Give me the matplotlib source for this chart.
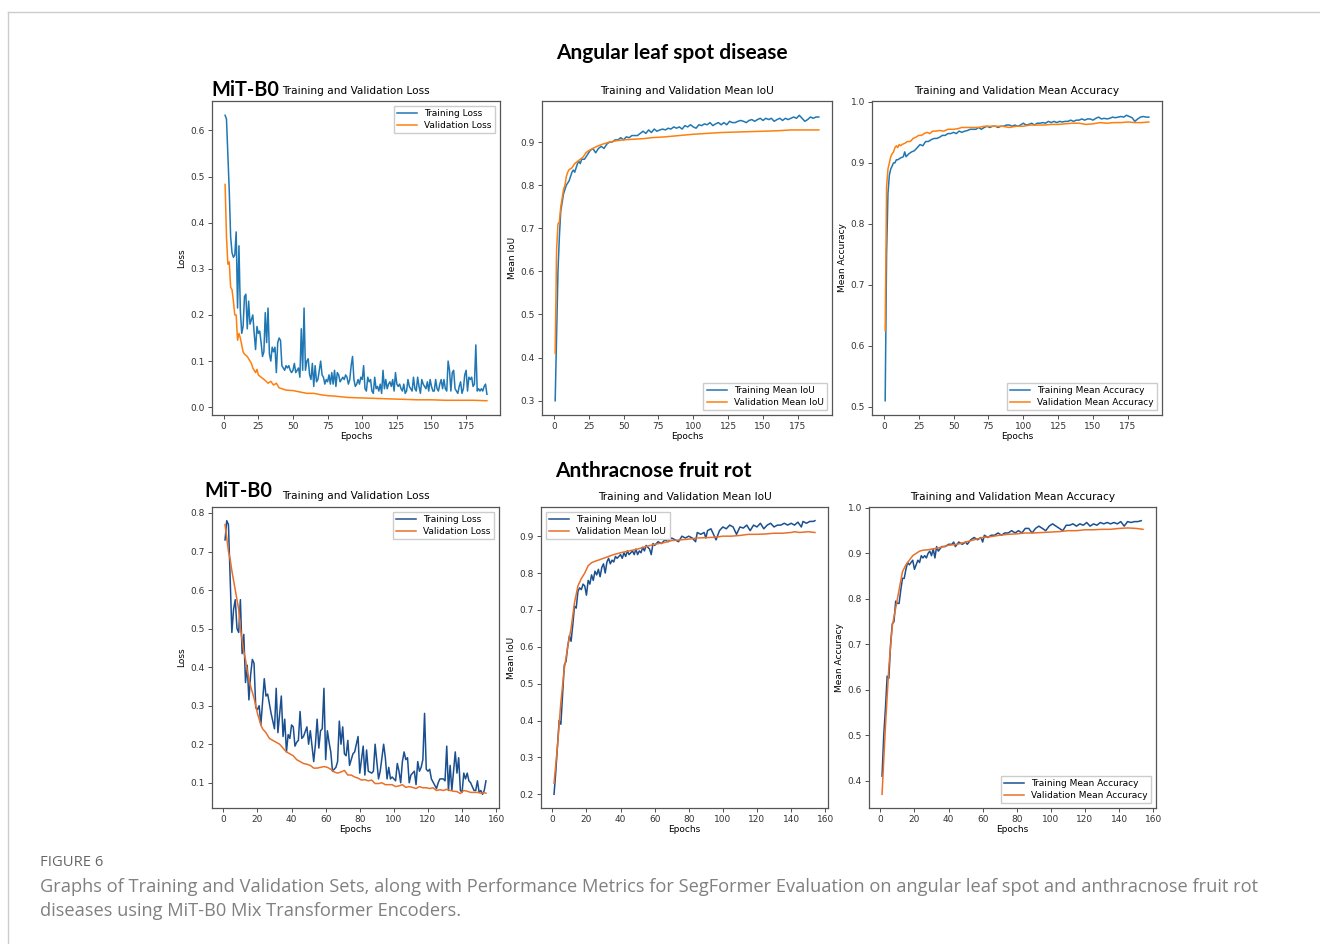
import matplotlib
matplotlib.use('Agg')
import matplotlib.pyplot as plt
from matplotlib.lines import Line2D

# ---------------- Angular leaf spot disease (top row) ----------------
top_loss_tr = [0.633, 0.625, 0.55, 0.47, 0.37, 0.335, 0.325, 0.33, 0.38, 0.215,
	0.35, 0.21, 0.16, 0.175, 0.24, 0.245, 0.17, 0.23, 0.18, 0.19,
	0.2, 0.16, 0.125, 0.175, 0.16, 0.165, 0.14, 0.11, 0.12, 0.205,
	0.14, 0.215, 0.115, 0.1, 0.13, 0.12, 0.13, 0.075, 0.14, 0.15,
	0.145, 0.09, 0.085, 0.08, 0.09, 0.085, 0.09, 0.08, 0.075, 0.08,
	0.095, 0.075, 0.08, 0.085, 0.065, 0.17, 0.08, 0.215, 0.08, 0.1,
	0.105, 0.07, 0.06, 0.095, 0.045, 0.09, 0.055, 0.06, 0.08, 0.1,
	0.07, 0.065, 0.05, 0.06, 0.055, 0.07, 0.05, 0.075, 0.05, 0.08,
	0.045, 0.075, 0.07, 0.055, 0.06, 0.065, 0.06, 0.07, 0.065, 0.05,
	0.06, 0.09, 0.11, 0.06, 0.045, 0.05, 0.06, 0.05, 0.065, 0.06,
	0.09, 0.04, 0.035, 0.065, 0.055, 0.06, 0.035, 0.03, 0.065, 0.04,
	0.045, 0.035, 0.05, 0.03, 0.08, 0.04, 0.06, 0.04, 0.05, 0.055,
	0.045, 0.06, 0.035, 0.075, 0.05, 0.045, 0.05, 0.04, 0.035, 0.05,
	0.03, 0.035, 0.06, 0.045, 0.04, 0.035, 0.065, 0.04, 0.035, 0.065,
	0.045, 0.03, 0.06, 0.05, 0.045, 0.04, 0.055, 0.035, 0.06, 0.045,
	0.035, 0.035, 0.06, 0.04, 0.035, 0.05, 0.06, 0.04, 0.06, 0.04,
	0.035, 0.1, 0.08, 0.035, 0.075, 0.08, 0.04, 0.035, 0.03, 0.045,
	0.055, 0.03, 0.04, 0.07, 0.08, 0.035, 0.065, 0.06, 0.065, 0.045,
	0.05, 0.135, 0.035, 0.04, 0.035, 0.04, 0.035, 0.045, 0.05, 0.028]
top_loss_tr_ep = list(range(1, len(top_loss_tr) + 1))

top_loss_va_ep = [1, 2, 3, 4, 5, 6, 7, 8, 9, 10, 11, 12, 13, 14, 15, 17, 19, 20, 21, 22,
	23, 24, 25, 27, 30, 32, 34, 36, 38, 40, 42, 45, 50, 55, 60, 65, 70, 75, 80, 90,
	100, 110, 120, 130, 140, 150, 160, 170, 180, 190]
top_loss_va = [0.483, 0.37, 0.31, 0.315, 0.26, 0.255, 0.23, 0.2, 0.2, 0.145, 0.16, 0.15, 0.135, 0.12, 0.115, 0.11, 0.1, 0.095, 0.085, 0.08,
	0.075, 0.082, 0.07, 0.065, 0.058, 0.052, 0.056, 0.048, 0.052, 0.042, 0.04, 0.037, 0.036, 0.033, 0.03, 0.03, 0.027, 0.025, 0.024, 0.021,
	0.02, 0.019, 0.018, 0.017, 0.016, 0.016, 0.015, 0.015, 0.015, 0.014]

top_iou_tr_ep = [1, 2, 3, 4, 5, 6, 7, 8, 9, 10, 11, 12, 13, 14, 15, 16, 17, 18, 19, 20,
	22, 24, 26, 28, 30, 32, 34, 36, 38, 40, 42, 44, 46, 48, 50, 52, 54, 56, 58, 60,
	62, 64, 66, 68, 70, 72, 74, 76, 78, 80, 82, 84, 86, 88, 90, 92, 94, 96, 98, 100,
	102, 104, 106, 108, 110, 112, 114, 116, 118, 120, 122, 124, 126, 128, 130, 132, 134, 136, 138, 140,
	142, 144, 146, 148, 150, 152, 154, 156, 158, 160, 162, 164, 166, 168, 170, 172, 174, 176, 178, 180,
	182, 184, 186, 188, 190]
top_iou_tr = [0.30, 0.45, 0.6, 0.68, 0.74, 0.76, 0.78, 0.79, 0.80, 0.805, 0.81, 0.82, 0.83, 0.835, 0.83, 0.84, 0.85, 0.855, 0.85, 0.86,
	0.86, 0.87, 0.88, 0.885, 0.875, 0.885, 0.89, 0.885, 0.895, 0.9, 0.9, 0.905, 0.905, 0.91, 0.905, 0.912, 0.91, 0.915, 0.915, 0.915,
	0.92, 0.925, 0.92, 0.928, 0.922, 0.93, 0.925, 0.928, 0.93, 0.928, 0.932, 0.93, 0.935, 0.932, 0.935, 0.93, 0.938, 0.935, 0.94, 0.935,
	0.932, 0.94, 0.938, 0.942, 0.94, 0.945, 0.938, 0.942, 0.945, 0.94, 0.945, 0.94, 0.948, 0.945, 0.945, 0.948, 0.95, 0.948, 0.945, 0.95,
	0.952, 0.948, 0.952, 0.955, 0.95, 0.955, 0.952, 0.955, 0.948, 0.952, 0.955, 0.95, 0.955, 0.952, 0.955, 0.958, 0.955, 0.962, 0.955, 0.948,
	0.952, 0.958, 0.955, 0.958, 0.958]

top_iou_va_ep = [1, 2, 3, 4, 5, 6, 7, 8, 9, 10, 11, 12, 13, 14, 15, 17, 19, 21, 23, 25,
	28, 31, 35, 40, 45, 50, 55, 60, 65, 70, 80, 90, 100, 110, 120, 130, 140, 150, 160, 170,
	180, 190]
top_iou_va = [0.41, 0.65, 0.71, 0.715, 0.75, 0.77, 0.79, 0.80, 0.82, 0.83, 0.836, 0.838, 0.84, 0.845, 0.85, 0.855, 0.86, 0.865, 0.875, 0.88,
	0.885, 0.89, 0.895, 0.9, 0.903, 0.905, 0.906, 0.907, 0.908, 0.91, 0.912, 0.915, 0.918, 0.92, 0.922, 0.923, 0.924, 0.925, 0.926, 0.928,
	0.928, 0.928]

top_acc_tr_ep = [1, 2, 3, 4, 5, 6, 7, 8, 9, 10, 12, 14, 15, 16, 18, 20, 22, 24, 26, 28,
	30, 32, 34, 36, 38, 40, 42, 44, 46, 48, 50, 52, 54, 56, 58, 60, 62, 64, 66, 68,
	70, 72, 74, 76, 78, 80, 82, 84, 86, 88, 90, 92, 94, 96, 98, 100, 102, 104, 106, 108,
	110, 112, 114, 116, 118, 120, 122, 124, 126, 128, 130, 132, 134, 136, 138, 140, 142, 144, 146, 148,
	150, 152, 154, 156, 158, 160, 162, 164, 166, 168, 170, 172, 174, 176, 178, 180, 182, 184, 186, 188,
	190]
top_acc_tr = [0.51, 0.75, 0.85, 0.88, 0.89, 0.895, 0.90, 0.9, 0.905, 0.905, 0.908, 0.91, 0.918, 0.91, 0.915, 0.918, 0.92, 0.925, 0.93, 0.928,
	0.935, 0.935, 0.938, 0.94, 0.94, 0.942, 0.945, 0.945, 0.948, 0.948, 0.95, 0.948, 0.952, 0.95, 0.952, 0.953, 0.955, 0.955, 0.955, 0.958,
	0.955, 0.958, 0.96, 0.958, 0.96, 0.96, 0.958, 0.96, 0.96, 0.962, 0.962, 0.96, 0.962, 0.96, 0.962, 0.965, 0.962, 0.963, 0.965, 0.962,
	0.965, 0.965, 0.966, 0.965, 0.968, 0.966, 0.968, 0.966, 0.968, 0.967, 0.968, 0.968, 0.97, 0.968, 0.97, 0.97, 0.972, 0.97, 0.972, 0.972,
	0.97, 0.973, 0.975, 0.972, 0.973, 0.972, 0.973, 0.975, 0.974, 0.975, 0.976, 0.975, 0.978, 0.976, 0.974, 0.968, 0.972, 0.975, 0.976, 0.975,
	0.975]

top_acc_va_ep = [1, 2, 3, 4, 5, 6, 7, 8, 9, 10, 11, 12, 13, 15, 17, 19, 21, 23, 25, 27,
	29, 31, 33, 35, 37, 40, 43, 46, 50, 53, 56, 60, 64, 68, 72, 76, 80, 85, 90, 95,
	100, 105, 110, 115, 120, 125, 130, 135, 140, 145, 150, 155, 160, 165, 170, 175, 180, 185, 190]
top_acc_va = [0.625, 0.86, 0.89, 0.9, 0.91, 0.915, 0.918, 0.925, 0.928, 0.925, 0.93, 0.928, 0.93, 0.932, 0.935, 0.935, 0.94, 0.942, 0.945, 0.945,
	0.948, 0.95, 0.948, 0.952, 0.952, 0.953, 0.952, 0.955, 0.955, 0.956, 0.958, 0.958, 0.958, 0.958, 0.96, 0.96, 0.96, 0.96, 0.958, 0.96,
	0.96, 0.962, 0.962, 0.962, 0.963, 0.963, 0.964, 0.965, 0.965, 0.963, 0.964, 0.966, 0.965, 0.966, 0.966, 0.967, 0.966, 0.966, 0.967]

# ---------------- Anthracnose fruit rot (bottom row) ----------------
bot_loss_tr_ep = [1, 2, 3, 5, 6, 7, 8, 9, 10, 11, 12, 13, 14, 15, 16, 17, 18, 19, 20, 21,
	22, 24, 25, 26, 28, 30, 31, 32, 34, 35, 36, 37, 38, 39, 40, 41, 42, 43, 44, 45,
	46, 47, 49, 50, 51, 53, 54, 55, 56, 57, 58, 59, 60, 61, 62, 63, 64, 66, 67, 68,
	69, 70, 71, 72, 73, 74, 76, 77, 78, 79, 80, 82, 83, 84, 85, 87, 88, 89, 91, 92,
	94, 95, 96, 97, 98, 99, 101, 102, 103, 104, 105, 106, 107, 108, 109, 110, 112, 113, 114, 115,
	116, 117, 118, 119, 120, 121, 122, 125, 126, 127, 129, 130, 131, 132, 133, 134, 135, 136, 137, 138,
	139, 140, 141, 142, 143, 144, 145, 147, 148, 149, 150, 151, 152, 153, 154]
bot_loss_tr = [0.73, 0.78, 0.77, 0.49, 0.55, 0.575, 0.5, 0.49, 0.575, 0.435, 0.485, 0.36, 0.405, 0.315, 0.38, 0.42, 0.41, 0.295, 0.29, 0.3,
	0.25, 0.37, 0.325, 0.33, 0.28, 0.24, 0.345, 0.23, 0.325, 0.22, 0.265, 0.18, 0.225, 0.215, 0.25, 0.245, 0.195, 0.205, 0.21, 0.285,
	0.215, 0.22, 0.245, 0.2, 0.235, 0.155, 0.2, 0.265, 0.19, 0.235, 0.24, 0.345, 0.16, 0.235, 0.205, 0.18, 0.13, 0.14, 0.155, 0.26,
	0.2, 0.245, 0.175, 0.17, 0.21, 0.145, 0.175, 0.18, 0.2, 0.22, 0.125, 0.195, 0.12, 0.185, 0.13, 0.125, 0.13, 0.2, 0.11, 0.13,
	0.2, 0.165, 0.11, 0.14, 0.11, 0.115, 0.105, 0.15, 0.13, 0.1, 0.155, 0.18, 0.16, 0.165, 0.1, 0.12, 0.13, 0.095, 0.155, 0.13,
	0.14, 0.16, 0.28, 0.135, 0.13, 0.135, 0.11, 0.085, 0.1, 0.11, 0.11, 0.105, 0.195, 0.08, 0.145, 0.08, 0.13, 0.18, 0.125, 0.165,
	0.08, 0.075, 0.125, 0.11, 0.125, 0.105, 0.1, 0.08, 0.08, 0.105, 0.075, 0.08, 0.07, 0.08, 0.105]

bot_loss_va_ep = [1, 3, 4, 5, 7, 9, 10, 11, 12, 13, 14, 15, 16, 17, 18, 19, 20, 21, 22, 23,
	25, 27, 29, 31, 33, 35, 37, 39, 41, 43, 45, 47, 49, 51, 53, 55, 57, 59, 61, 63,
	65, 67, 69, 71, 73, 75, 77, 79, 81, 83, 85, 87, 89, 91, 93, 95, 97, 99, 101, 103,
	105, 107, 109, 111, 113, 115, 117, 119, 121, 123, 125, 127, 129, 131, 133, 135, 137, 139, 141, 143,
	145, 147, 149, 151, 153, 154]
bot_loss_va = [0.77, 0.70, 0.68, 0.65, 0.6, 0.55, 0.5, 0.47, 0.44, 0.42, 0.39, 0.37, 0.35, 0.335, 0.32, 0.3, 0.28, 0.265, 0.25, 0.24,
	0.23, 0.215, 0.21, 0.205, 0.2, 0.19, 0.18, 0.175, 0.17, 0.16, 0.155, 0.15, 0.148, 0.145, 0.138, 0.138, 0.14, 0.142, 0.14, 0.135,
	0.128, 0.125, 0.128, 0.132, 0.12, 0.12, 0.115, 0.112, 0.107, 0.108, 0.105, 0.107, 0.098, 0.098, 0.1, 0.095, 0.095, 0.095, 0.09, 0.092,
	0.095, 0.088, 0.09, 0.088, 0.085, 0.09, 0.087, 0.087, 0.085, 0.087, 0.08, 0.082, 0.08, 0.083, 0.08, 0.078, 0.077, 0.072, 0.08, 0.078,
	0.075, 0.075, 0.075, 0.073, 0.074, 0.073]

bot_iou_tr_ep = [1, 2, 3, 4, 5, 6, 7, 8, 9, 10, 11, 12, 13, 14, 15, 16, 17, 18, 19, 20,
	21, 22, 23, 24, 25, 26, 27, 28, 29, 30, 31, 32, 33, 34, 35, 36, 37, 38, 39, 40,
	41, 42, 43, 44, 45, 46, 47, 48, 49, 50, 51, 52, 53, 54, 55, 56, 57, 58, 59, 60,
	62, 64, 66, 68, 70, 72, 74, 76, 78, 80, 82, 84, 85, 87, 89, 90, 91, 93, 95, 96,
	98, 100, 102, 104, 106, 108, 110, 112, 114, 116, 118, 120, 122, 124, 126, 128, 130, 132, 134, 136,
	138, 140, 142, 144, 146, 147, 149, 151, 153, 154]
bot_iou_tr = [0.2, 0.26, 0.33, 0.40, 0.39, 0.47, 0.55, 0.56, 0.6, 0.63, 0.615, 0.66, 0.71, 0.705, 0.75, 0.76, 0.755, 0.77, 0.765, 0.74,
	0.78, 0.77, 0.795, 0.78, 0.805, 0.795, 0.81, 0.79, 0.815, 0.825, 0.80, 0.83, 0.84, 0.825, 0.835, 0.83, 0.845, 0.84, 0.845, 0.85,
	0.84, 0.855, 0.845, 0.86, 0.85, 0.855, 0.86, 0.85, 0.865, 0.85, 0.86, 0.855, 0.87, 0.86, 0.875, 0.87, 0.865, 0.85, 0.88, 0.875,
	0.885, 0.88, 0.89, 0.885, 0.895, 0.89, 0.885, 0.9, 0.895, 0.9, 0.895, 0.885, 0.91, 0.905, 0.91, 0.895, 0.915, 0.92, 0.9, 0.89,
	0.915, 0.925, 0.92, 0.93, 0.925, 0.905, 0.925, 0.922, 0.93, 0.915, 0.93, 0.925, 0.935, 0.92, 0.93, 0.935, 0.925, 0.93, 0.93, 0.935,
	0.93, 0.935, 0.93, 0.938, 0.925, 0.94, 0.935, 0.94, 0.94, 0.942]

bot_iou_va_ep = [1, 3, 5, 7, 9, 11, 13, 15, 17, 19, 21, 23, 25, 27, 30, 33, 36, 40, 45, 50,
	55, 60, 65, 70, 75, 80, 85, 90, 95, 100, 105, 110, 115, 120, 125, 130, 135, 140, 142, 145,
	150, 154]
bot_iou_va = [0.23, 0.33, 0.45, 0.54, 0.6, 0.65, 0.72, 0.765, 0.785, 0.8, 0.82, 0.828, 0.832, 0.835, 0.84, 0.845, 0.85, 0.855, 0.86, 0.865,
	0.872, 0.878, 0.882, 0.888, 0.89, 0.892, 0.895, 0.896, 0.897, 0.9, 0.9, 0.902, 0.905, 0.905, 0.906, 0.908, 0.908, 0.91, 0.912, 0.91,
	0.912, 0.91]

bot_acc_tr_ep = [1, 2, 3, 4, 5, 6, 7, 8, 9, 10, 11, 12, 13, 14, 15, 16, 17, 18, 19, 20,
	21, 22, 23, 24, 25, 26, 27, 28, 29, 30, 31, 32, 33, 34, 35, 36, 38, 40, 42, 43,
	44, 46, 48, 50, 51, 53, 55, 57, 59, 60, 61, 63, 65, 67, 69, 71, 73, 75, 77, 79,
	81, 83, 85, 87, 89, 91, 93, 95, 97, 99, 101, 103, 105, 107, 109, 111, 113, 115, 117, 119,
	121, 123, 125, 127, 129, 131, 133, 135, 137, 139, 141, 143, 145, 147, 149, 151, 153]
bot_acc_tr = [0.41, 0.5, 0.56, 0.63, 0.625, 0.70, 0.745, 0.75, 0.795, 0.79, 0.79, 0.82, 0.845, 0.845, 0.865, 0.88, 0.875, 0.88, 0.885, 0.865,
	0.875, 0.885, 0.88, 0.895, 0.89, 0.895, 0.89, 0.9, 0.905, 0.895, 0.91, 0.89, 0.915, 0.905, 0.91, 0.915, 0.915, 0.92, 0.92, 0.925,
	0.915, 0.925, 0.92, 0.925, 0.92, 0.93, 0.935, 0.93, 0.935, 0.925, 0.94, 0.935, 0.94, 0.94, 0.945, 0.94, 0.945, 0.945, 0.95, 0.945,
	0.95, 0.945, 0.955, 0.955, 0.945, 0.955, 0.96, 0.955, 0.95, 0.96, 0.965, 0.96, 0.955, 0.95, 0.962, 0.962, 0.965, 0.96, 0.965, 0.962,
	0.968, 0.96, 0.965, 0.962, 0.968, 0.965, 0.968, 0.965, 0.968, 0.965, 0.97, 0.96, 0.97, 0.968, 0.97, 0.97, 0.972]

bot_acc_va_ep = [1, 3, 5, 7, 9, 11, 13, 15, 17, 19, 21, 23, 25, 28, 31, 34, 37, 40, 45, 50,
	55, 60, 65, 70, 75, 80, 85, 90, 95, 100, 105, 110, 115, 120, 125, 130, 135, 140, 145, 150,
	154]
bot_acc_va = [0.37, 0.52, 0.65, 0.74, 0.78, 0.82, 0.86, 0.875, 0.885, 0.895, 0.9, 0.905, 0.907, 0.908, 0.91, 0.912, 0.915, 0.918, 0.92, 0.925,
	0.93, 0.935, 0.937, 0.94, 0.942, 0.943, 0.945, 0.945, 0.946, 0.947, 0.948, 0.95, 0.95, 0.952, 0.952, 0.953, 0.953, 0.955, 0.956, 0.955,
	0.953]

TOP_C = ('#1f77b4', '#ff7f0e')
BOT_C = ('#1b4f8f', '#e8702a')
FS = 6.5
TFS = 7.6


def draw_panel(ax, tr_ep, tr, va_ep, va, names, ylabel, title, colors, loc):
	ax.plot(tr_ep, tr, color=colors[0], lw=1.1, label=names[0])
	ax.plot(va_ep, va, color=colors[1], lw=1.1, label=names[1])
	ax.set_title(title, fontsize=TFS, pad=5)
	ax.set_xlabel('Epochs', fontsize=FS, labelpad=1)
	ax.set_ylabel(ylabel, fontsize=FS, labelpad=3)
	ax.tick_params(labelsize=FS, length=3, width=0.6, pad=2, colors='#333333')
	for s in ax.spines.values():
		s.set_color('#555555')
		s.set_linewidth(0.9)
	ax.legend(loc=loc, fontsize=FS, handlelength=2.2, borderpad=0.4, labelspacing=0.3, fancybox=False, framealpha=1)


fig = plt.figure(figsize=(13.2, 9.44), dpi=100)
W, H = 1320.0, 944.0


def add_ax(x0, y0, x1, y1):
	return fig.add_axes([x0 / W, 1 - y1 / H, (x1 - x0) / W, (y1 - y0) / H])


ax1 = add_ax(212, 101, 500, 415)
ax2 = add_ax(542, 101, 832, 415)
ax3 = add_ax(872, 101, 1162, 415)
ax4 = add_ax(212, 507, 499, 808)
ax5 = add_ax(541, 507, 828, 808)
ax6 = add_ax(869, 507, 1156, 808)

draw_panel(ax1, top_loss_tr_ep, top_loss_tr, top_loss_va_ep, top_loss_va,
	('Training Loss', 'Validation Loss'), 'Loss', 'Training and Validation Loss', TOP_C, 'upper right')
draw_panel(ax2, top_iou_tr_ep, top_iou_tr, top_iou_va_ep, top_iou_va,
	('Training Mean IoU', 'Validation Mean IoU'), 'Mean IoU', 'Training and Validation Mean IoU', TOP_C, 'lower right')
draw_panel(ax3, top_acc_tr_ep, top_acc_tr, top_acc_va_ep, top_acc_va,
	('Training Mean Accuracy', 'Validation Mean Accuracy'), 'Mean Accuracy', 'Training and Validation Mean Accuracy', TOP_C, 'lower right')
draw_panel(ax4, bot_loss_tr_ep, bot_loss_tr, bot_loss_va_ep, bot_loss_va,
	('Training Loss', 'Validation Loss'), 'Loss', 'Training and Validation Loss', BOT_C, 'upper right')
draw_panel(ax5, bot_iou_tr_ep, bot_iou_tr, bot_iou_va_ep, bot_iou_va,
	('Training Mean IoU', 'Validation Mean IoU'), 'Mean IoU', 'Training and Validation Mean IoU', BOT_C, 'upper left')
draw_panel(ax6, bot_acc_tr_ep, bot_acc_tr, bot_acc_va_ep, bot_acc_va,
	('Training Mean Accuracy', 'Validation Mean Accuracy'), 'Mean Accuracy', 'Training and Validation Mean Accuracy', BOT_C, 'lower right')

for ax in (ax1, ax2, ax3):
	ax.set_xticks([0, 25, 50, 75, 100, 125, 150, 175])
for ax in (ax4, ax5, ax6):
	ax.set_xticks([0, 20, 40, 60, 80, 100, 120, 140, 160])

ax4.set_title('Training and Validation Loss', fontsize=TFS, pad=6)

# headings
fig.text(672 / W, 1 - 53 / H, 'Angular leaf spot disease', ha='center', va='center',
	fontsize=15, fontweight='bold', family='Lato')
fig.text(653 / W, 1 - 471 / H, 'Anthracnose fruit rot', ha='center', va='center',
	fontsize=15, fontweight='bold', family='Lato')
fig.text(211 / W, 1 - 90 / H, 'MiT-B0', ha='left', va='center',
	fontsize=14.3, fontweight='bold', family='Lato')
fig.text(204 / W, 1 - 491 / H, 'MiT-B0', ha='left', va='center',
	fontsize=14.3, fontweight='bold', family='Lato')

# caption
fig.text(40 / W, 1 - 863 / H, 'FIGURE 6', ha='left', va='center',
	fontsize=10.6, color='#666666', family='Open Sans')
fig.text(40 / W, 1 - 887 / H, 'Graphs of Training and Validation Sets, along with Performance Metrics for SegFormer Evaluation on angular leaf spot and anthracnose fruit rot',
	ha='left', va='center', fontsize=13.15, color='#808080', family='Open Sans')
fig.text(40 / W, 1 - 911 / H, 'diseases using MiT-B0 Mix Transformer Encoders.',
	ha='left', va='center', fontsize=13.15, color='#808080', family='Open Sans')

# page frame
fig.add_artist(Line2D([8 / W, 1], [1 - 12 / H, 1 - 12 / H], color='#cccccc', lw=1))
fig.add_artist(Line2D([8 / W, 8 / W], [0, 1 - 12 / H], color='#cccccc', lw=1))

fig.savefig('out.png', dpi=100, facecolor='white')
